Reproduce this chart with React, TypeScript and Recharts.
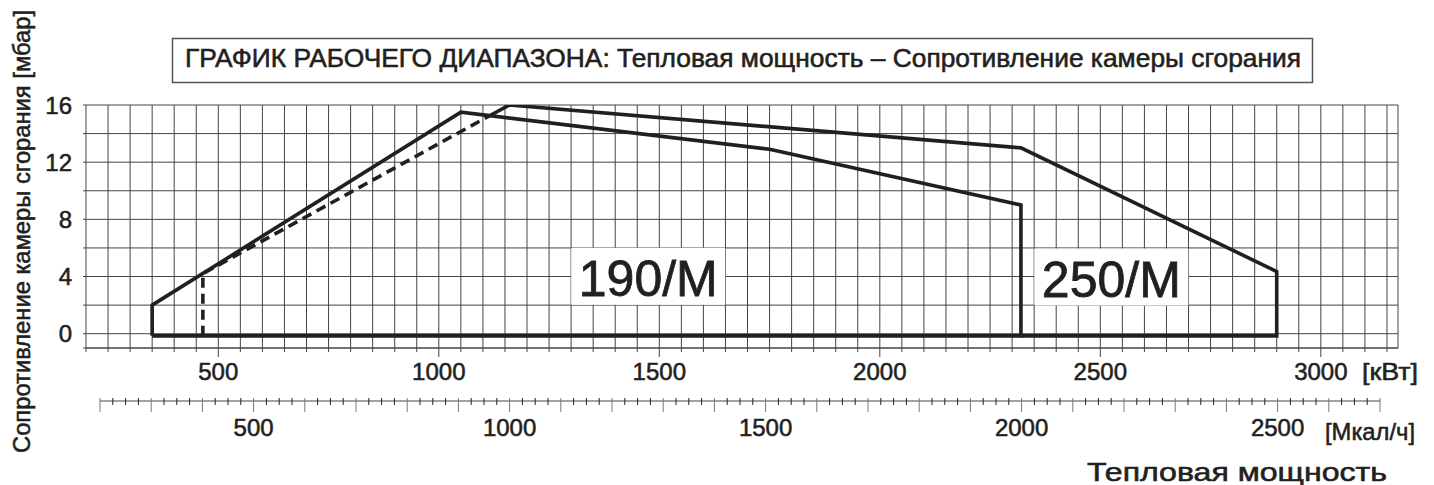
import { LineChart, Line, XAxis, YAxis, CartesianGrid, ReferenceDot } from 'recharts';

// operating range outlines, kW vs mbar
const range190 = [
  { kw: 350, mbar: -0.15 },
  { kw: 350, mbar: 2 },
  { kw: 1050, mbar: 15.5 },
  { kw: 1750, mbar: 12.9 },
  { kw: 2320, mbar: 9 },
  { kw: 2320, mbar: -0.15 },
  { kw: 350, mbar: -0.15 },
];
const range250 = [
  { kw: 1115, mbar: 15.25 },
  { kw: 1160, mbar: 16 },
  { kw: 2320, mbar: 13 },
  { kw: 2900, mbar: 4.35 },
  { kw: 2900, mbar: -0.15 },
  { kw: 2320, mbar: -0.15 },
];
const range250Dashed = [
  { kw: 465, mbar: -0.15 },
  { kw: 465, mbar: 4.2 },
  { kw: 1115, mbar: 15.25 },
];

const kwLabels = [500, 1000, 1500, 2000, 2500, 3000];
const mcalLabels = [500, 1000, 1500, 2000, 2500];
const mbarLabels = [0, 4, 8, 12, 16];
const mbarGrid = [-1, 0, 2, 4, 6, 8, 10, 12, 14, 16];
const kwGrid = Array.from({ length: 60 }, (_, i) => 200 + i * 50);
const mcalTicks = Array.from({ length: 101 }, (_, i) => 200 + i * 25);

const INK = '#231f20';
const GRID = '#444';
const FONT = '"Liberation Sans", Arial, sans-serif';

// text is a bit heavier than regular weight in the original print
const heavy = { stroke: INK, strokeWidth: 0.55, paintOrder: 'stroke' as const };

const KwTick = ({ x, y, payload }: any) => {
  const major = kwLabels.includes(payload.value);
  return (
    <g>
      <line x1={x} x2={x} y1={y} y2={y + (major ? 9 : 4)} stroke={GRID} strokeWidth={1} />
      {major && (
        <text x={x} y={y + 32} textAnchor='middle' fontSize={24} fontFamily={FONT} fill={INK} {...heavy}>
          {payload.value}
        </text>
      )}
    </g>
  );
};

const MbarTick = ({ x, y, payload }: any) => {
  const labelled = mbarLabels.includes(payload.value);
  return (
    <g>
      <line x1={x - 3} x2={x} y1={y} y2={y} stroke={GRID} strokeWidth={1} />
      {labelled && (
        <text x={x - 14} y={y + 8.5} textAnchor='end' fontSize={24} fontFamily={FONT} fill={INK} {...heavy}>
          {payload.value}
        </text>
      )}
    </g>
  );
};

const McalTick = ({ x, y, payload }: any) => {
  const major = payload.value % 100 === 0;
  return (
    <g>
      <line
        x1={x}
        x2={x}
        y1={y - 3}
        y2={y + (major ? 11 : 4)}
        stroke={major ? '#777' : INK}
        strokeWidth={1}
      />
      {mcalLabels.includes(payload.value) && (
        <text x={x} y={y + 35} textAnchor='middle' fontSize={24} fontFamily={FONT} fill={INK} {...heavy}>
          {payload.value}
        </text>
      )}
    </g>
  );
};

const AreaTag = (text: string) => (p: any) => (
  <g>
    <rect x={p.cx - 77} y={p.cy - 28} width={154} height={57} fill='#fff' />
    <text
      x={p.cx}
      y={p.cy + 20}
      textAnchor='middle'
      fontSize={50}
      fontFamily={FONT}
      fill={INK}
      stroke={INK}
      strokeWidth={0.8}
    >
      {text}
    </text>
  </g>
);

const lineProps = {
  type: 'linear' as const,
  dataKey: 'mbar',
  stroke: INK,
  strokeWidth: 3.6,
  dot: false,
  activeDot: false,
  isAnimationActive: false,
  strokeLinejoin: 'miter' as const,
};

export default function App() {
  return (
    <div style={{ position: 'absolute', left: 0, top: 0, width: 1434, height: 485, background: '#fff' }}>
      <div style={{ position: 'absolute', left: 0, top: 0 }}>
        <LineChart width={1434} height={485} margin={{ top: 105, right: 36, bottom: 107, left: 0 }}>
          <CartesianGrid stroke={GRID} strokeWidth={1} />
          <XAxis
            dataKey='kw'
            type='number'
            domain={[200, 3175]}
            ticks={kwGrid}
            interval={0}
            allowDataOverflow
            height={30}
            tickSize={0}
            tickMargin={0}
            axisLine={{ stroke: GRID }}
            tickLine={false}
            tick={<KwTick />}
          />
          <YAxis
            type='number'
            domain={[-1, 16]}
            ticks={mbarGrid}
            interval={0}
            allowDataOverflow
            width={86}
            tickSize={0}
            tickMargin={0}
            axisLine={false}
            tickLine={false}
            tick={<MbarTick />}
          />
          <ReferenceDot x={1475} y={4.05} r={0} shape={AreaTag('190/M')} />
          <ReferenceDot x={2525} y={4} r={0} shape={AreaTag('250/M')} />
          <Line {...lineProps} data={range250Dashed} strokeDasharray='10 6' />
          <Line {...lineProps} data={range190} />
          <Line {...lineProps} data={range250} />
        </LineChart>
      </div>
      <div style={{ position: 'absolute', left: 0, top: 0 }}>
        <LineChart
          width={1434}
          height={485}
          margin={{ top: 380, right: 54, bottom: 44, left: 100 }}
          data={mcalLabels.map((m) => ({ mcal: m, v: 0 }))}
        >
          <XAxis
            dataKey='mcal'
            type='number'
            domain={[200, 2700]}
            ticks={mcalTicks}
            interval={0}
            height={40}
            tickSize={0}
            tickMargin={0}
            axisLine={{ stroke: GRID }}
            tickLine={false}
            tick={<McalTick />}
          />
          <YAxis hide domain={[0, 1]} />
        </LineChart>
      </div>
      <svg
        width={1434}
        height={485}
        style={{ position: 'absolute', left: 0, top: 0, pointerEvents: 'none' }}
        fontFamily={FONT}
        fill={INK}
        stroke={INK}
        strokeWidth={0.55}
      >
        <rect x={172.5} y={38.5} width={1140} height={44} fill='none' stroke='#555' strokeWidth={1.5} />
        <text x={185} y={67} fontSize={25} textLength={1116} lengthAdjust='spacingAndGlyphs'>
          ГРАФИК РАБОЧЕГО ДИАПАЗОНА: Тепловая мощность – Сопротивление камеры сгорания
        </text>
        <text
          x={30}
          y={231.5}
          fontSize={24}
          textAnchor='middle'
          transform='rotate(-90 30 231.5)'
          textLength={443}
          lengthAdjust='spacingAndGlyphs'
        >
          Сопротивление камеры сгорания [мбар]
        </text>
        <text x={1362} y={380} fontSize={24} textLength={56} lengthAdjust='spacingAndGlyphs'>
          [кВт]
        </text>
        <text x={1325} y={440} fontSize={24} textLength={90} lengthAdjust='spacingAndGlyphs'>
          [Мкал/ч]
        </text>
        <text x={1087} y={481} fontSize={25} textLength={300} lengthAdjust='spacingAndGlyphs'>
          Тепловая мощность
        </text>
      </svg>
    </div>
  );
}
